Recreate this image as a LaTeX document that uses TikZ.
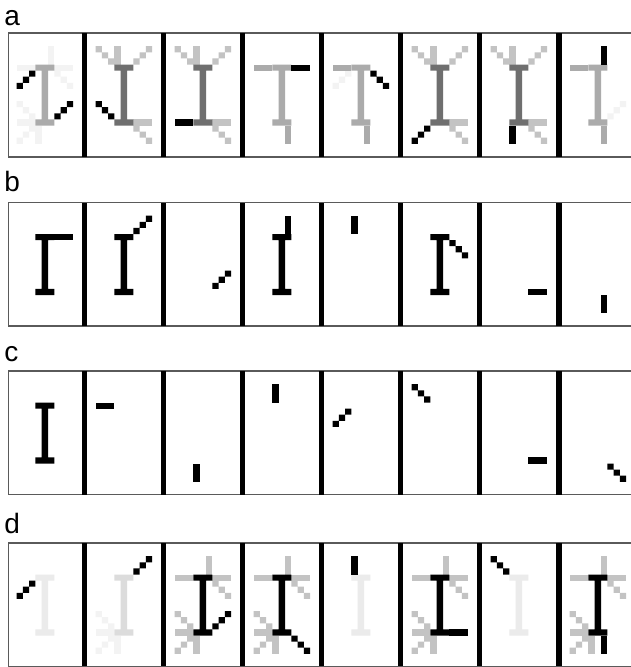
\documentclass[tikz,border=0pt]{standalone}
\usepackage{fontspec}
\setmainfont{Liberation Sans}
\definecolor{lg}{HTML}{C3C3C3}
\definecolor{mg}{HTML}{ABABAB}
\definecolor{dg}{HTML}{6F6F6F}
\definecolor{fI}{HTML}{EBEBEB}
\definecolor{fI2}{HTML}{DCDCDC}
\definecolor{fnt}{HTML}{F3F3F3}
\definecolor{frm}{HTML}{5A5A5A}
% strokes on a 12x20 cell grid
\newcommand\pkI[1]{\fill[#1] (4,5) rectangle (7,6) (5,6) rectangle (6,14) (4,14) rectangle (7,15);}
\newcommand\pkTLu[1]{\fill[#1] (1,2) rectangle +(1,1) (2,3) rectangle +(1,1) (3,4) rectangle +(1,1);}
\newcommand\pkTRu[1]{\fill[#1] (9,2) rectangle +(1,1) (8,3) rectangle +(1,1) (7,4) rectangle +(1,1);}
\newcommand\pkTLd[1]{\fill[#1] (3,6) rectangle +(1,1) (2,7) rectangle +(1,1) (1,8) rectangle +(1,1);}
\newcommand\pkTRd[1]{\fill[#1] (7,6) rectangle +(1,1) (8,7) rectangle +(1,1) (9,8) rectangle +(1,1);}
\newcommand\pkBLu[1]{\fill[#1] (1,11) rectangle +(1,1) (2,12) rectangle +(1,1) (3,13) rectangle +(1,1);}
\newcommand\pkBRu[1]{\fill[#1] (7,13) rectangle +(1,1) (8,12) rectangle +(1,1) (9,11) rectangle +(1,1);}
\newcommand\pkBLd[1]{\fill[#1] (3,15) rectangle +(1,1) (2,16) rectangle +(1,1) (1,17) rectangle +(1,1);}
\newcommand\pkBRd[1]{\fill[#1] (7,15) rectangle +(1,1) (8,16) rectangle +(1,1) (9,17) rectangle +(1,1);}
\newcommand\pkTl[1]{\fill[#1] (1,5) rectangle (4,6);}
\newcommand\pkTr[1]{\fill[#1] (7,5) rectangle (10,6);}
\newcommand\pkBl[1]{\fill[#1] (1,14) rectangle (4,15);}
\newcommand\pkBr[1]{\fill[#1] (7,14) rectangle (10,15);}
\newcommand\pkVuL[1]{\fill[#1] (4,2) rectangle (5,5);}
\newcommand\pkVuR[1]{\fill[#1] (6,2) rectangle (7,5);}
\newcommand\pkVdL[1]{\fill[#1] (4,15) rectangle (5,18);}
\newcommand\pkVdR[1]{\fill[#1] (6,15) rectangle (7,18);}
% groups
\newcommand\pkLightSet[1]{\pkTl{#1}\pkTr{#1}\pkVuR{#1}\pkTRd{#1}\pkBLu{#1}\pkBl{#1}\pkBLd{#1}\pkVdL{#1}}
\newcommand\pkLowSet[1]{\pkBLu{#1}\pkBl{#1}\pkBLd{#1}\pkVdL{#1}}
\newcommand\pkYSet[1]{\pkTLu{#1}\pkVuL{#1}\pkTRu{#1}\pkBr{#1}\pkBRd{#1}}
\newcommand\pkTee[1]{\pkTl{#1}\pkI{#1}\pkVdR{#1}}
% panel k in row with top y
\newcommand\pkPanel[3]{%
  \begin{scope}[shift={({10.2+79.0*(#1-1)},{#2+1})}, x=6.3pt, y=-6.1pt]#3\end{scope}}
% row frame
\newcommand\pkRow[2]{%
  \draw[frame] (631,#1) -- (8.3,#1) -- (8.3,#2) -- (631,#2);
  \foreach \k in {0,...,6}{\fill ({81.7+79.05*\k},#1) rectangle ++(5.5,{#2-#1});}}
\begin{document}
\begin{tikzpicture}[x=1pt,y=-1pt,
  frame/.style={draw=frm,line width=1.2pt},
  lab/.style={anchor=base west,inner sep=0pt,font=\fontsize{28}{30}\selectfont}]
\useasboundingbox[fill=white] (0,0) rectangle (631,667);
% labels
\node[lab] (la) at (4.3,25) {a};
\node[lab] (lb) at (4.3,191.7) {b};
\node[lab] (lc) at (4.3,361.7) {c};
\node[lab] (ld) at (4.3,533.3) {d};
% ---------- row a ----------
\def\rt{33}
\pkPanel{1}{\rt}{\pkLightSet{fnt}\pkI{mg}\pkTLd{black}\pkBRu{black}}
\pkPanel{2}{\rt}{\pkYSet{lg}\pkI{dg}\pkBLu{black}}
\pkPanel{3}{\rt}{\pkYSet{lg}\pkI{dg}\pkBl{black}}
\pkPanel{4}{\rt}{\pkTee{mg}\pkTr{black}}
\pkPanel{5}{\rt}{\pkTLd{fnt}\pkTee{mg}\pkTRd{black}}
\pkPanel{6}{\rt}{\pkYSet{lg}\pkI{dg}\pkBLd{black}}
\pkPanel{7}{\rt}{\pkYSet{lg}\pkI{dg}\pkVdL{black}}
\pkPanel{8}{\rt}{\pkBRu{fnt}\pkTee{mg}\pkVuR{black}}
\pkRow{33}{157}
% ---------- row b ----------
\def\rt{202.5}
\pkPanel{1}{\rt}{\pkI{black}\pkTr{black}}
\pkPanel{2}{\rt}{\pkI{black}\pkTRu{black}}
\pkPanel{3}{\rt}{\pkBRu{black}}
\pkPanel{4}{\rt}{\pkI{black}\pkVuR{black}}
\pkPanel{5}{\rt}{\pkVuL{black}}
\pkPanel{6}{\rt}{\pkI{black}\pkTRd{black}}
\pkPanel{7}{\rt}{\pkBr{black}}
\pkPanel{8}{\rt}{\pkVdR{black}}
\pkRow{202.5}{326}
% ---------- row c ----------
\def\rt{371}
\pkPanel{1}{\rt}{\pkI{black}}
\pkPanel{2}{\rt}{\pkTl{black}}
\pkPanel{3}{\rt}{\pkVdL{black}}
\pkPanel{4}{\rt}{\pkVuL{black}}
\pkPanel{5}{\rt}{\pkTLd{black}}
\pkPanel{6}{\rt}{\pkTLu{black}}
\pkPanel{7}{\rt}{\pkBr{black}}
\pkPanel{8}{\rt}{\pkBRd{black}}
\pkRow{371}{494.5}
% ---------- row d ----------
\def\rt{543}
\pkPanel{1}{\rt}{\pkI{fI}\pkTLd{black}}
\pkPanel{2}{\rt}{\pkLowSet{fnt}\pkI{fI2}\pkTRu{black}}
\pkPanel{3}{\rt}{\pkLightSet{lg}\pkI{black}\pkBRu{black}}
\pkPanel{4}{\rt}{\pkLightSet{lg}\pkI{black}\pkBRd{black}}
\pkPanel{5}{\rt}{\pkI{fI}\pkVuL{black}}
\pkPanel{6}{\rt}{\pkLightSet{lg}\pkI{black}\pkBr{black}}
\pkPanel{7}{\rt}{\pkI{fI}\pkTLu{black}}
\pkPanel{8}{\rt}{\pkLightSet{lg}\pkI{black}\pkVdR{black}}
\pkRow{543}{666.4}
\end{tikzpicture}
\end{document}
